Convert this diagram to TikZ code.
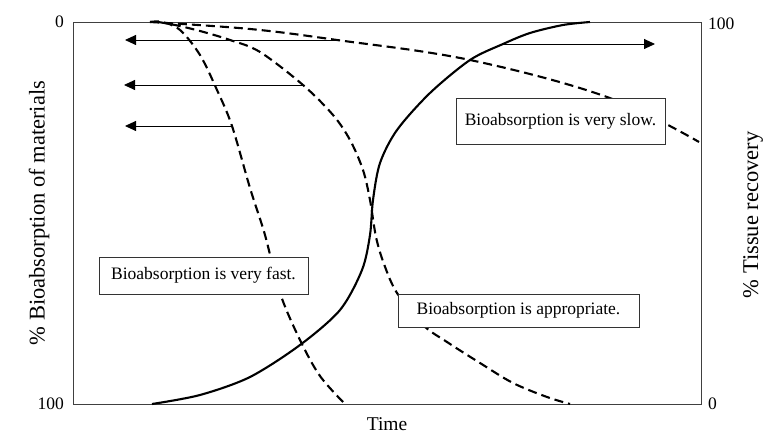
\documentclass[tikz,border=0pt]{standalone}
\usepackage{fontspec}
\setmainfont{Liberation Serif}
\usetikzlibrary{arrows.meta}
\begin{document}
\begin{tikzpicture}[x=1pt,y=-1pt,
  frame/.style={draw=black!75, line width=0.9pt},
  curve/.style={line width=2.1pt, line cap=butt},
  dashcurve/.style={curve, dash pattern=on 9pt off 5pt},
  flow/.style={line width=0.9pt, -{Triangle[length=11pt,width=10pt]}},
  labelbox/.style={draw=black!80, line width=0.9pt, fill=white, inner sep=0pt,
    font=\fontsize{17.5}{20}\selectfont},
  ticklab/.style={font=\fontsize{17.5}{20}\selectfont, inner sep=0pt},
  axislab/.style={font=\fontsize{22.5}{26}\selectfont, inner sep=0pt, rotate=90}
]
\useasboundingbox (0,0) rectangle (764,435);
% frame
\coordinate (tl) at (73,22);
\coordinate (br) at (701,404);
\draw[frame] (tl) rectangle (br);
% tick labels
\node[ticklab, anchor=east] (l0) at (64,22) {0};
\node[ticklab, anchor=east] (l100) at (64,404) {100};
\node[ticklab, anchor=west] (r100) at (708,24) {100};
\node[ticklab, anchor=west] (r0) at (708,404) {0};
% axis labels
\node[axislab] (ylab) at (39,213) {\%\ Bioabsorption of materials};
\node[axislab] (y2lab) at (753,215) {\%\ Tissue recovery};
\node[font=\fontsize{19.5}{22}\selectfont, inner sep=0pt] (xlab) at (387,424) {Time};
% named points on curves
\coordinate (slowA) at (337,40);
\coordinate (approA) at (303,85);
\coordinate (fastA) at (232,126);
\coordinate (solidA) at (503,44);
% tissue recovery (solid)
\draw[curve] plot[smooth, tension=0.5] coordinates {
  (152,404) (200,395) (250,377) (300,345) (340,310) (362,270) (370,235)
  (373,200) (380,163) (397,130) (430,93) (470,60) (solidA) (530,33) (563,25) (590,22)};
% very fast (dashed)
\draw[dashcurve] plot[smooth, tension=0.55] coordinates {
  (150,22) (162,22) (180,30) (200,55) (217,90) (fastA) (250,188) (265,235)
  (280,293) (300,340) (320,376) (345,404)};
% appropriate (dashed)
\draw[dashcurve] plot[smooth, tension=0.55] coordinates {
  (158,22) (175,25) (200,31) (230,40) (260,52) (approA) (333,115) (350,140)
  (363,170) (370,200) (376,237) (384,264) (397,293) (423,325) (447,342)
  (480,363) (513,383) (547,397) (570,404)};
% very slow (dashed)
\draw[dashcurve] plot[smooth, tension=0.6] coordinates {
  (150,22) (250,29) (slowA) (470,60) (607,97) (699,142)};
% arrows
\coordinate (slowT) at (125,40);
\coordinate (approT) at (124,85);
\coordinate (fastT) at (125,126);
\coordinate (solidT) at (655,44);
\draw[flow] (slowA) -- (slowT);
\draw[flow] (approA) -- (approT);
\draw[flow] (fastA) -- (fastT);
\draw[flow] (solidA) -- (solidT);
% boxes
\node[labelbox, minimum width=209pt, minimum height=46pt] (slow) at (560.5,121) {Bioabsorption is very slow.};
\node[labelbox, minimum width=209pt, minimum height=37pt] (fast) at (203.5,275.5) {Bioabsorption is very fast.};
\node[labelbox, minimum width=241pt, minimum height=33pt] (appro) at (518.5,310.5) {Bioabsorption is appropriate.};
\end{tikzpicture}
\end{document}
